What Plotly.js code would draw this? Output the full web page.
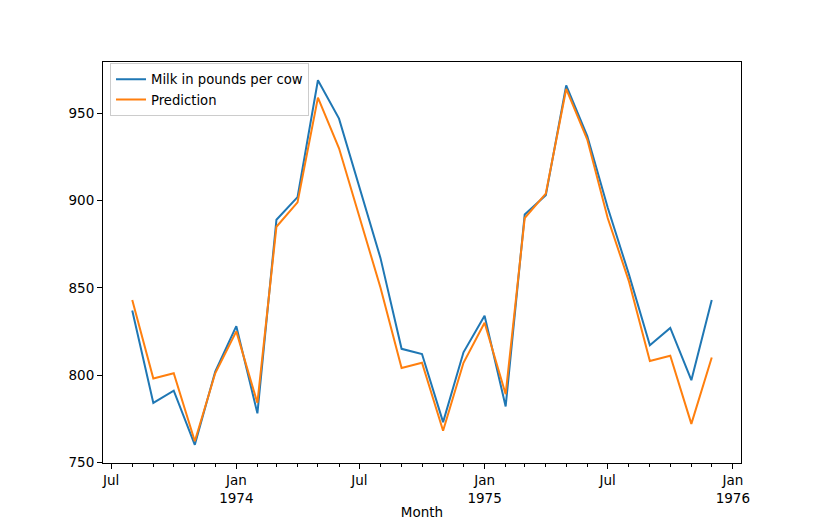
<!DOCTYPE html>
<html>
<head>
<meta charset="utf-8">
<script src="https://cdn.plot.ly/plotly-3.0.1.min.js"></script>
<style>html,body{margin:0;padding:0;background:#fff}#chart{width:824px;height:520px}</style>
</head>
<body>
<div id="chart"></div>
<script>
const months = ["1973-08-01","1973-09-01","1973-10-01","1973-11-01","1973-12-01",
  "1974-01-01","1974-02-01","1974-03-01","1974-04-01","1974-05-01","1974-06-01",
  "1974-07-01","1974-08-01","1974-09-01","1974-10-01","1974-11-01","1974-12-01",
  "1975-01-01","1975-02-01","1975-03-01","1975-04-01","1975-05-01","1975-06-01",
  "1975-07-01","1975-08-01","1975-09-01","1975-10-01","1975-11-01","1975-12-01"];
const milk = [837,784,791,760,802,
  828,778,889,902,969,947,
  908,867,815,812,773,813,
  834,782,892,903,966,937,
  896,858,817,827,797,843];
const prediction = [843,798,801,762,801,
  825,784,885,899,959,930,
  890,850,804,807,768,807,
  830,789,890,904,964,935,
  890,854,808,811,772,810];
const xTickVals = ["1973-07-01","1974-01-01","1974-07-01","1975-01-01","1975-07-01","1976-01-01"];
const xTickText = ["Jul","Jan<br>1974","Jul","Jan<br>1975","Jul","Jan<br>1976"];
const yTickVals = [750,800,850,900,950];

const font = {family:"DejaVu Sans, sans-serif", size:13.5, color:"#000"};
const traces = [
  {x:months, y:milk, type:"scatter", mode:"lines", name:"Milk in pounds per cow",
   line:{color:"#1f77b4", width:2}},
  {x:months, y:prediction, type:"scatter", mode:"lines", name:"Prediction",
   line:{color:"#ff7f0e", width:2}}
];
const layout = {
  width:824, height:520,
  margin:{l:103, r:83, t:62, b:57},
  paper_bgcolor:"#fff", plot_bgcolor:"#fff",
  font:font,
  showlegend:true,
  legend:{x:0.011, y:0.997, xanchor:"left", yanchor:"top",
    bgcolor:"rgba(255,255,255,0.8)", bordercolor:"#cccccc", borderwidth:1,
    font:{family:"DejaVu Sans, sans-serif", size:13.2}, tracegroupgap:0},
  xaxis:{type:"date", range:["1973-06-19","1976-01-13"],
    tickmode:"array", tickvals:xTickVals, ticktext:xTickText,
    ticks:"outside", ticklen:5, tickwidth:1, tickcolor:"#000",
    minor:{dtick:"M1", tick0:"1973-01-01", ticks:"outside", ticklen:3, tickwidth:1, tickcolor:"#000", showgrid:false},
    showgrid:false, zeroline:false,
    showline:true, linecolor:"#000", linewidth:1, mirror:true,
    title:{text:"Month", font:font, standoff:4}},
  yaxis:{range:[749.55,979.45], tickmode:"array", tickvals:yTickVals,
    ticks:"outside", ticklen:5, tickwidth:1, tickcolor:"#000",
    showgrid:false, zeroline:false,
    showline:true, linecolor:"#000", linewidth:1, mirror:true}
};
Plotly.newPlot("chart", traces, layout, {displayModeBar:false, staticPlot:true});
</script>
</body>
</html>
